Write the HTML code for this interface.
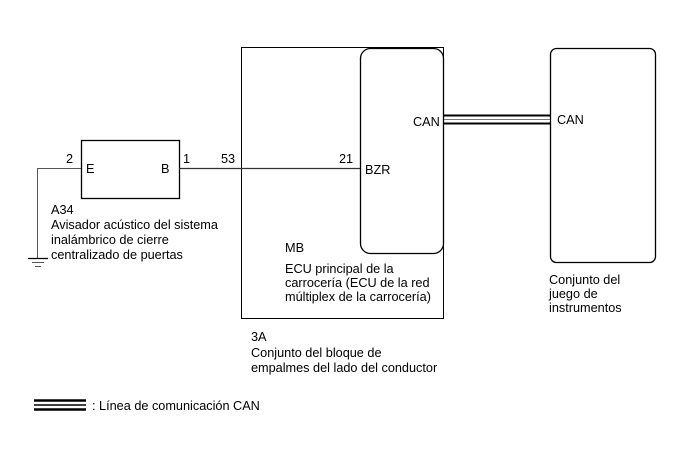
<!DOCTYPE html>
<html><head><style>body{margin:0;background:#fff}svg{display:block}text{font-family:"Liberation Sans",Arial,sans-serif;font-size:12.7px;fill:#000}</style></head><body>
<svg width="688" height="463" viewBox="0 0 688 463" xmlns="http://www.w3.org/2000/svg">
<g fill="none" stroke="#000">
<rect x="241.5" y="47.5" width="202" height="271" stroke-width="1"/>
<rect x="360.5" y="48.5" width="83" height="205" rx="10" stroke-width="1.3"/>
<rect x="550.5" y="48.5" width="105" height="214" rx="6" stroke-width="1.3"/>
<rect x="81.5" y="140.5" width="98" height="58" stroke-width="1.3"/>
<line x1="179" y1="168.5" x2="360" y2="168.5" stroke="#333" stroke-width="1.3"/>
<polyline points="81,168.5 37.5,168.5 37.5,258" stroke="#555" stroke-width="1"/>
<line x1="28" y1="258.5" x2="48" y2="258.5" stroke-width="1.3"/>
<line x1="32" y1="262.5" x2="44" y2="262.5" stroke="#555"/>
<line x1="35" y1="266.5" x2="41" y2="266.5" stroke="#555"/>
<line x1="444" y1="115.5" x2="550" y2="115.5" stroke-width="2"/>
<line x1="444" y1="119.5" x2="550" y2="119.5" stroke="#777" stroke-width="1"/>
<line x1="444" y1="123.5" x2="550" y2="123.5" stroke-width="2"/>
<line x1="34" y1="400.5" x2="86" y2="400.5" stroke-width="2.5"/>
<line x1="34" y1="405" x2="86" y2="405" stroke-width="1.5"/>
<line x1="34" y1="409.5" x2="86" y2="409.5" stroke-width="2.5"/>
</g>
<text x="66" y="163">2</text>
<text x="86" y="173">E</text>
<text x="161" y="173">B</text>
<text x="183" y="163">1</text>
<text x="221" y="163">53</text>
<text x="339" y="163">21</text>
<text x="365" y="174">BZR</text>
<text x="413" y="126">CAN</text>
<text x="557" y="124">CAN</text>
<text x="51" y="214">A34</text>
<text x="51" y="229">Avisador acústico del sistema</text>
<text x="51" y="244">inalámbrico de cierre</text>
<text x="51" y="259">centralizado de puertas</text>
<text x="285" y="252">MB</text>
<text x="285" y="273">ECU principal de la</text>
<text x="285" y="287">carrocería (ECU de la red</text>
<text x="285" y="301">múltiplex de la carrocería)</text>
<text x="251" y="341">3A</text>
<text x="251" y="357">Conjunto del bloque de</text>
<text x="251" y="372">empalmes del lado del conductor</text>
<text x="549" y="284">Conjunto del</text>
<text x="549" y="298">juego de</text>
<text x="549" y="312">instrumentos</text>
<text x="92" y="410">: Línea de comunicación CAN</text>
</svg>
</body></html>
